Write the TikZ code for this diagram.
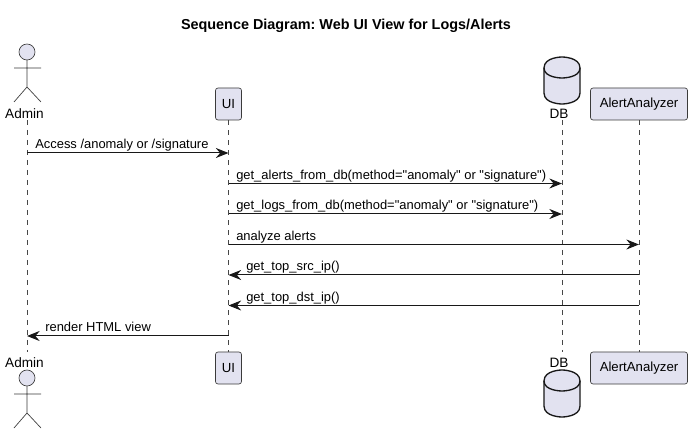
\documentclass[tikz,border=0pt]{standalone}
\usepackage{fontspec}
\newfontfamily\plainf{Liberation Sans}
\usetikzlibrary{arrows.meta}
\definecolor{pfill}{HTML}{E2E2F0}
\definecolor{pline}{HTML}{181818}
\tikzset{
  x=0.75pt,y=-0.75pt,
  partbox/.style={draw=pline!85,fill=pfill,line width=0.5pt,rounded corners=1.9pt,minimum height=24pt,inner sep=0pt,font=\plainf\fontsize{9.9pt}{12pt}\selectfont,text=black},
  lifeline/.style={draw=pline!80,line width=0.38pt,dash pattern=on 3.75pt off 3.75pt},
  msg/.style={draw=pline,line width=0.75pt,-{Stealth[length=9.5pt,width=7.5pt,inset=3.2pt,fill=pline]}},
  msglabel/.style={anchor=base west,inner sep=0pt,font=\plainf\fontsize{9.7pt}{12pt}\selectfont,text=black},
  plabel/.style={inner sep=0pt,font=\plainf\fontsize{10.2pt}{12pt}\selectfont,text=black},
  stick/.style={draw=pline!85,line width=0.5pt},
  dbshape/.style={draw=pline,fill=pfill,line width=1pt},
}
\begin{document}
\frenchspacing
\begin{tikzpicture}
\useasboundingbox[fill=white] (0,0) rectangle (692,434);
\node[inner sep=0pt,font=\plainf\bfseries\fontsize{10.8pt}{12pt}\selectfont] (title) at (346,25.5) {Sequence Diagram: Web UI View for Logs/Alerts};
% participants
\node[plabel] (adminT) at (24.5,113.5) {Admin};
\node[plabel] (adminB) at (24.5,362.5) {Admin};
\node[partbox,minimum width=19.5pt] (uiT) at (228.5,104) {UI};
\node[partbox,minimum width=19.5pt] (uiB) at (228.5,368) {UI};
\node[plabel] (dbT) at (559,113.5) {DB};
\node[plabel] (dbB) at (559,362.5) {DB};
\node[partbox,minimum width=72.75pt] (aaT) at (639,104) {AlertAnalyzer};
\node[partbox,minimum width=72.75pt] (aaB) at (639,368) {AlertAnalyzer};
% lifelines
\coordinate (adminLT) at (27,120);
\coordinate (adminLB) at (27,352);
\coordinate (dbLT) at (562,120);
\coordinate (dbLB) at (562,352);
\draw[lifeline] (adminLT) -- (adminLB);
\draw[lifeline] (uiT.south) -- (uiB.north);
\draw[lifeline] (dbLT) -- (dbLB);
\draw[lifeline] (aaT.south) -- (aaB.north);
% actors
\foreach \c/\o in {52/0,378/326}{
  \draw[stick,fill=pfill] (27,\c) circle (8);
  \draw[stick] (27,60+\o) -- (27,87+\o) (14,68+\o) -- (41,68+\o) (14,102+\o) -- (27,87+\o) -- (41,102+\o);
}
% databases
\foreach \t in {57,370}{
  \draw[dbshape] (544,\t+11) .. controls (544,\t) and (562,\t) .. (562,\t) .. controls (562,\t) and (580,\t) .. (580,\t+11)
    -- (580,\t+36) .. controls (580,\t+47) and (562,\t+47) .. (562,\t+47) .. controls (562,\t+47) and (544,\t+47) .. (544,\t+36) -- cycle;
  \draw[dbshape,fill=none] (544,\t+11) .. controls (544,\t+21) and (562,\t+21) .. (562,\t+21) .. controls (562,\t+21) and (580,\t+21) .. (580,\t+11);
}
% messages
\coordinate (m1) at (0,153);
\coordinate (m2) at (0,183.5);
\coordinate (m3) at (0,214);
\coordinate (m4) at (0,244.5);
\coordinate (m5) at (0,275);
\coordinate (m6) at (0,305.5);
\coordinate (m7) at (0,336);
\draw[msg] (adminLT |- m1) -- (uiT |- m1);
\draw[msg] (uiT |- m2) -- (dbLT |- m2);
\draw[msg] (uiT |- m3) -- (dbLT |- m3);
\draw[msg] (uiT |- m4) -- (aaT |- m4);
\draw[msg] (aaT |- m5) -- (uiT |- m5);
\draw[msg] (aaT |- m6) -- (uiT |- m6);
\draw[msg] (uiT |- m7) -- (adminLT |- m7);
\node[msglabel] (l1) at (35,149) {Access /anomaly or /signature};
\node[msglabel] (l2) at (236,179.5) {get\_alerts\_from\_db(method="anomaly" or "signature")};
\node[msglabel] (l3) at (236,210) {get\_logs\_from\_db(method="anomaly" or "signature")};
\node[msglabel] (l4) at (236,240.5) {analyze alerts};
\node[msglabel] (l5) at (246,271) {get\_top\_src\_ip()};
\node[msglabel] (l6) at (246,301.5) {get\_top\_dst\_ip()};
\node[msglabel] (l7) at (45,332) {render HTML view};
\end{tikzpicture}
\end{document}
